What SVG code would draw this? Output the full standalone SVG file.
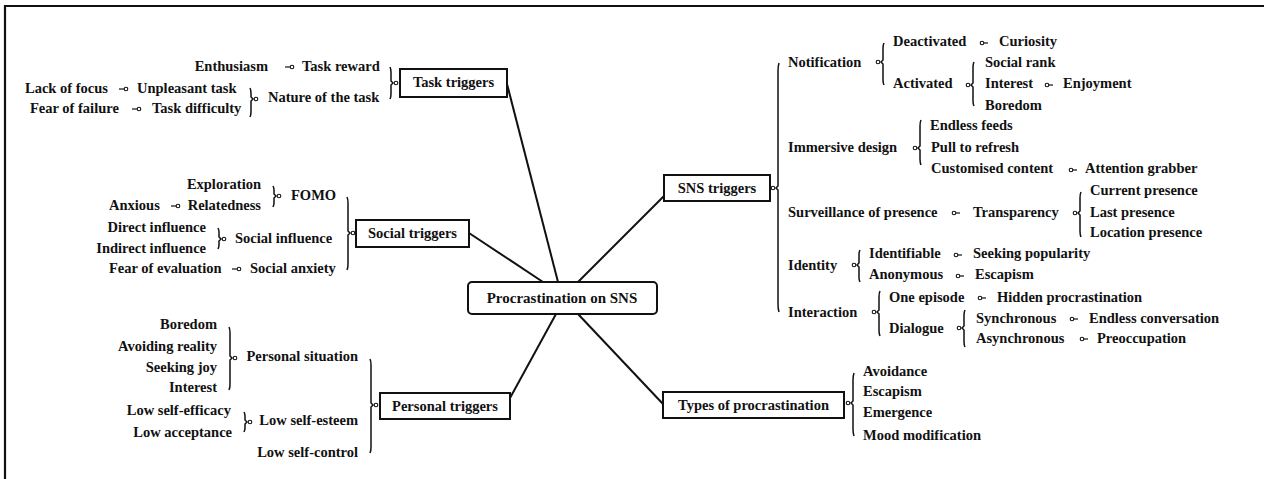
<svg xmlns="http://www.w3.org/2000/svg" width="1264" height="479" viewBox="0 0 1264 479">
<style>
text{font-family:"Liberation Serif","Times New Roman",serif;font-weight:bold;font-size:14.5px;fill:#111}
.e{text-anchor:end}
.m{text-anchor:middle}
.box{fill:#fff;stroke:#111;stroke-width:2}
.ln{stroke:#111;stroke-width:2;fill:none}
.br{stroke:#111;stroke-width:1.5;fill:none}
.s{stroke:#111;stroke-width:1.2;fill:none}
.c{stroke:#111;stroke-width:1.1;fill:#fff}
.frame{stroke:#111;stroke-width:2.2;fill:none}
</style>
<path class="frame" d="M5,479 L5,6 L1264,6"/>
<g id="connectors">
<line class="ln" x1="507" y1="84" x2="558" y2="282"/>
<line class="ln" x1="469" y1="233" x2="543" y2="282"/>
<line class="ln" x1="664" y1="196" x2="578" y2="282"/>
<line class="ln" x1="510" y1="398" x2="556" y2="314"/>
<line class="ln" x1="578" y1="314" x2="663" y2="404"/>
</g>
<g id="center">
<rect class="box" x="468" y="282" width="189" height="32" rx="4"/>
<text class="m" x="562" y="303" style="font-size:15px">Procrastination on SNS</text>
</g>
<g id="task-triggers">
<rect class="box" x="400" y="69" width="107" height="28"/>
<text class="m" x="453.5" y="87">Task triggers</text>
<path class="br" d="M390,67 Q391,69 391,72 L391,81 L393,83 L391,85 L391,94 Q391,97 390,99"/>
<circle class="c" cx="396" cy="83" r="1.8"/>
<text class="e" x="268" y="71">Enthusiasm</text>
<line class="s" x1="285" y1="67" x2="290" y2="67"/><circle class="c" cx="292" cy="67" r="1.8"/>
<text x="302" y="71">Task reward</text>
<text x="268" y="102">Nature of the task</text>
<path class="br" d="M250,88 Q251,90 251,93 L251,97 L253,99 L251,101 L251,112 Q251,115 250,117"/>
<circle class="c" cx="256" cy="99" r="1.8"/>
<text x="25" y="93">Lack of focus</text>
<line class="s" x1="119" y1="89" x2="124" y2="89"/><circle class="c" cx="126" cy="89" r="1.8"/>
<text x="137" y="93">Unpleasant task</text>
<text x="30" y="113">Fear of failure</text>
<line class="s" x1="132" y1="109" x2="137" y2="109"/><circle class="c" cx="139" cy="109" r="1.8"/>
<text x="152" y="113">Task difficulty</text>
</g>
<g id="social-triggers">
<rect class="box" x="356" y="220" width="113" height="27"/>
<text class="m" x="412.5" y="238">Social triggers</text>
<path class="br" d="M347,197 Q348,199 348,203 L348,231 L350,233 L348,235 L348,264 Q348,268 347,270"/>
<circle class="c" cx="353" cy="233" r="1.8"/>
<text x="291" y="200">FOMO</text>
<path class="br" d="M273,186 Q274,188 274,190 L274,194 L276,196 L274,198 L274,203 Q274,205 273,207"/>
<circle class="c" cx="279" cy="196" r="1.8"/>
<text class="e" x="261" y="189">Exploration</text>
<text class="e" x="261" y="210">Relatedness</text>
<text x="109" y="210">Anxious</text>
<line class="s" x1="171" y1="206" x2="176" y2="206"/><circle class="c" cx="178" cy="206" r="1.8"/>
<text x="235" y="243">Social influence</text>
<path class="br" d="M218,228 Q219,230 219,232 L219,237 L221,239 L219,241 L219,245 Q219,247 218,249"/>
<circle class="c" cx="224" cy="239" r="1.8"/>
<text class="e" x="206" y="232">Direct influence</text>
<text class="e" x="206" y="253">Indirect influence</text>
<text x="250" y="273">Social anxiety</text>
<line class="s" x1="232" y1="269" x2="237" y2="269"/><circle class="c" cx="239" cy="269" r="1.8"/>
<text x="109" y="273">Fear of evaluation</text>
</g>
<g id="personal-triggers">
<rect class="box" x="380" y="393" width="130" height="26"/>
<text class="m" x="445" y="411">Personal triggers</text>
<path class="br" d="M370,359 Q371,361 371,365 L371,403 L373,405 L371,407 L371,447 Q371,451 370,453"/>
<circle class="c" cx="376" cy="405" r="1.8"/>
<text class="e" x="358" y="361">Personal situation</text>
<path class="br" d="M229,327 Q230,329 230,333 L230,356 L232,358 L230,360 L230,384 Q230,388 229,390"/>
<circle class="c" cx="235" cy="358" r="1.8"/>
<text class="e" x="217" y="329">Boredom</text>
<text class="e" x="217" y="351">Avoiding reality</text>
<text class="e" x="217" y="372">Seeking joy</text>
<text class="e" x="217" y="392">Interest</text>
<text class="e" x="358" y="425">Low self-esteem</text>
<path class="br" d="M244,412 Q245,414 245,416 L245,420 L247,422 L245,424 L245,428 Q245,430 244,432"/>
<circle class="c" cx="250" cy="422" r="1.8"/>
<text class="e" x="231" y="415">Low self-efficacy</text>
<text class="e" x="232" y="437">Low acceptance</text>
<text class="e" x="358" y="457">Low self-control</text>
</g>
<g id="sns-triggers">
<rect class="box" x="664" y="175" width="106" height="26"/>
<text class="m" x="717" y="193">SNS triggers</text>
<path class="br" d="M779,63 Q778,66 778,71 L778,186 L776,188 L778,190 L778,304 Q778,309 779,312"/>
<circle class="c" cx="773" cy="188" r="1.8"/>
<text x="788" y="67">Notification</text>
<path class="br" d="M884,43 Q883,45 883,48 L883,60 L881,62 L883,64 L883,80 Q883,83 884,85"/>
<circle class="c" cx="878" cy="62" r="1.8"/>
<text x="893" y="46">Deactivated</text>
<circle class="c" cx="982" cy="43" r="1.8"/><line class="s" x1="984" y1="43" x2="988" y2="43"/>
<text x="999" y="46">Curiosity</text>
<text x="893" y="88">Activated</text>
<path class="br" d="M974,62 Q973,64 973,67 L973,83 L971,85 L973,87 L973,101 Q973,104 974,106"/>
<circle class="c" cx="968" cy="85" r="1.8"/>
<text x="985" y="67">Social rank</text>
<text x="985" y="88">Interest</text>
<circle class="c" cx="1047" cy="85" r="1.8"/><line class="s" x1="1049" y1="85" x2="1053" y2="85"/>
<text x="1063" y="88">Enjoyment</text>
<text x="985" y="110">Boredom</text>
<text x="788" y="152">Immersive design</text>
<path class="br" d="M921,120 Q920,122 920,126 L920,146 L918,148 L920,150 L920,159 Q920,163 921,165"/>
<circle class="c" cx="915" cy="148" r="1.8"/>
<text x="930" y="130">Endless feeds</text>
<text x="931" y="152">Pull to refresh</text>
<text x="931" y="173">Customised content</text>
<circle class="c" cx="1071" cy="170" r="1.8"/><line class="s" x1="1073" y1="170" x2="1077" y2="170"/>
<text x="1085" y="173">Attention grabber</text>
<text x="788" y="217">Surveillance of presence</text>
<circle class="c" cx="954" cy="213" r="1.8"/><line class="s" x1="956" y1="213" x2="960" y2="213"/>
<text x="973" y="217">Transparency</text>
<path class="br" d="M1081,192 Q1080,194 1080,198 L1080,211 L1078,213 L1080,215 L1080,231 Q1080,235 1081,237"/>
<circle class="c" cx="1075" cy="213" r="1.8"/>
<text x="1090" y="195">Current presence</text>
<text x="1090" y="217">Last presence</text>
<text x="1090" y="237">Location presence</text>
<text x="788" y="270">Identity</text>
<path class="br" d="M860,250 Q859,252 859,254 L859,263 L857,265 L859,267 L859,278 Q859,280 860,282"/>
<circle class="c" cx="854" cy="265" r="1.8"/>
<text x="869" y="258">Identifiable</text>
<circle class="c" cx="956" cy="255" r="1.8"/><line class="s" x1="958" y1="255" x2="962" y2="255"/>
<text x="973" y="258">Seeking popularity</text>
<text x="869" y="279">Anonymous</text>
<circle class="c" cx="958" cy="276" r="1.8"/><line class="s" x1="960" y1="276" x2="964" y2="276"/>
<text x="975" y="279">Escapism</text>
<text x="788" y="317">Interaction</text>
<path class="br" d="M880,291 Q879,293 879,297 L879,310 L877,312 L879,314 L879,330 Q879,334 880,336"/>
<circle class="c" cx="874" cy="312" r="1.8"/>
<text x="889" y="302">One episode</text>
<circle class="c" cx="980" cy="298" r="1.8"/><line class="s" x1="982" y1="298" x2="986" y2="298"/>
<text x="997" y="302">Hidden procrastination</text>
<text x="889" y="333">Dialogue</text>
<path class="br" d="M965,310 Q964,312 964,315 L964,326 L962,328 L964,330 L964,342 Q964,345 965,347"/>
<circle class="c" cx="959" cy="328" r="1.8"/>
<text x="976" y="323">Synchronous</text>
<circle class="c" cx="1072" cy="319" r="1.8"/><line class="s" x1="1074" y1="319" x2="1078" y2="319"/>
<text x="1089" y="323">Endless conversation</text>
<text x="976" y="343">Asynchronous</text>
<circle class="c" cx="1082" cy="339" r="1.8"/><line class="s" x1="1084" y1="339" x2="1088" y2="339"/>
<text x="1097" y="343">Preoccupation</text>
</g>
<g id="types-of-procrastination">
<rect class="box" x="663" y="392" width="181" height="26"/>
<text class="m" x="753.5" y="410">Types of procrastination</text>
<path class="br" d="M854,373 Q853,376 853,380 L853,401 L851,403 L853,405 L853,429 Q853,433 854,436"/>
<circle class="c" cx="848" cy="403" r="1.8"/>
<text x="863" y="376">Avoidance</text>
<text x="863" y="396">Escapism</text>
<text x="863" y="417">Emergence</text>
<text x="863" y="440">Mood modification</text>
</g>
</svg>
